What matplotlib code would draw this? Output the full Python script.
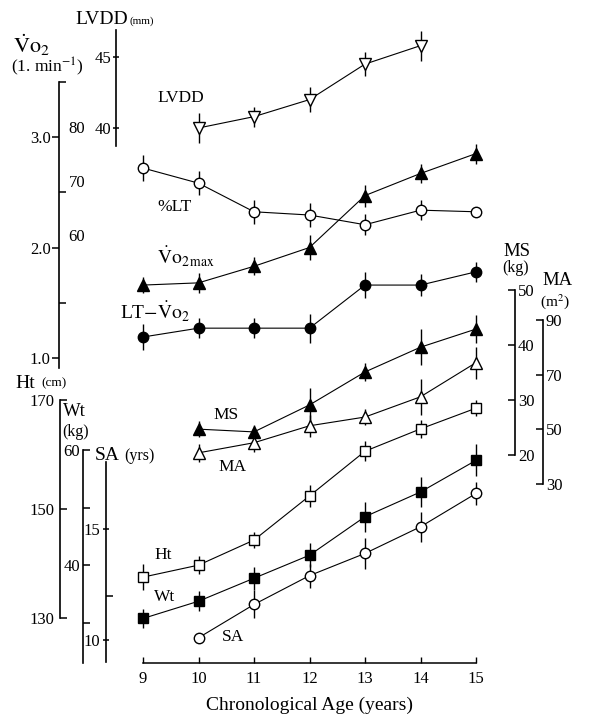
import matplotlib
matplotlib.use('Agg')
import matplotlib.pyplot as plt

plt.rcParams['font.family'] = ['Liberation Serif', 'DejaVu Serif']
plt.rcParams['mathtext.fontset'] = 'stix'

# values
ages = [9, 10, 11, 12, 13, 14, 15]
ages_lvdd = [10, 11, 12, 13, 14]
ages_late = [10, 11, 12, 13, 14, 15]

lvdd = [40.0, 40.8, 42.0, 44.5, 45.8]
lvdd_err = [1.05, 0.7, 0.9, 0.85, 1.05]
pct_lt = [72.4, 69.6, 64.3, 63.7, 61.9, 64.6, 64.3]
pct_lt_err = [2.4, 2.2, 2.2, 2.2, 1.9, 1.9, 0]
vo2max = [1.66, 1.68, 1.83, 2.00, 2.47, 2.67, 2.85]
vo2max_err = [0.07, 0.09, 0.08, 0.11, 0.10, 0.09, 0.09]
lt_vo2 = [1.19, 1.27, 1.27, 1.27, 1.66, 1.66, 1.78]
lt_vo2_err = [0.12, 0.09, 0.09, 0.13, 0.12, 0.10, 0.09]
ms = [24.7, 24.2, 29.1, 35.1, 39.6, 42.9]
ms_err = [1.5, 1.3, 3.1, 1.6, 3.3, 2.5]
ma = [41.4, 45.1, 51.3, 54.5, 61.9, 74.4]
ma_err = [3.3, 3.3, 4.0, 2.9, 6.6, 5.9]
ht = [137.5, 139.7, 144.3, 152.4, 160.6, 164.7, 168.5]
ht_err = [2.4, 1.7, 1.5, 2.0, 1.8, 1.7, 1.5]
wt = [30.7, 33.7, 37.7, 41.7, 48.4, 52.7, 58.2]
wt_err = [1.7, 1.7, 2.0, 2.1, 2.6, 2.6, 2.8]
sa = [10.1, 11.6, 12.9, 13.9, 15.1, 16.6]
sa_err = [0, 0.63, 0.54, 0.68, 0.68, 0.5]

W, H = 591, 719


def lims(v1, p1, v2, p2, a, b):
    k = (v2 - v1) / (p2 - p1)
    return v1 + (a - p1) * k, v1 + (b - p1) * k


xlim = lims(9, 143, 15, 476, 0, W)
fig = plt.figure(figsize=(W / 100, H / 100), dpi=100)


def new_axis(v1, p1, v2, p2):
    a = fig.add_axes([0, 0, 1, 1])
    a.patch.set_visible(False)
    a.set_xlim(xlim)
    a.set_ylim(lims(v1, p1, v2, p2, H, 0))
    for s in a.spines.values():
        s.set_visible(False)
    a.set_xticks([])
    a.set_yticks([])
    return a


def show_spine(a, side, px, lo, hi, ticks, labels, direction, pad, minor=None, mdir='in', line=True):
    sp = a.spines[side]
    sp.set_visible(line)
    sp.set_position(('axes', px / W))
    sp.set_bounds(lo, hi)
    sp.set_linewidth(1.2)
    if side == 'left':
        a.yaxis.tick_left()
    else:
        a.yaxis.tick_right()
    a.set_yticks(ticks, labels)
    a.tick_params(axis='y', which='major', direction=direction, length=5 if line else 0,
                  width=1.1, pad=pad, labelsize=12)
    if minor:
        a.set_yticks(minor, minor=True)
        a.tick_params(axis='y', which='minor', direction=mdir, length=5, width=1.1)


def series(a, x, y, e, marker, filled, size):
    a.errorbar(x, y, yerr=e, color='black', lw=0.8, elinewidth=1.0, capsize=0,
               marker=marker, ms=size, mfc='black' if filled else 'white',
               mec='black', mew=1.0)


def T(x, y, s, size, **kw):
    fig.text(x / W, 1 - y / H, s, fontsize=size, ha='left', va='center', **kw)


# x axis
ax = new_axis(0, 0, 1, 100)
ax.spines['bottom'].set_visible(True)
ax.spines['bottom'].set_position(('axes', 1 - 663 / H))
ax.spines['bottom'].set_bounds(9, 15)
ax.spines['bottom'].set_linewidth(1.1)
ax.set_xticks(ages, [str(v) for v in ages])
ax.tick_params(axis='x', direction='in', length=4, width=1.0, pad=6, labelsize=12)
fig.text(309 / W, 1 - 705 / H, 'Chronological Age (years)', fontsize=14, ha='center', va='center')

# Vo2 axis
ax_vo2 = new_axis(1.0, 358, 3.0, 137)
show_spine(ax_vo2, 'left', 59, 0.91, 3.5, [1.0, 2.0, 3.0], ['1.0', '2.0', '3.0'],
           'out', 1, minor=[1.5, 2.5, 3.5])
series(ax_vo2, ages, vo2max, vo2max_err, '^', True, 8)
series(ax_vo2, ages, lt_vo2, lt_vo2_err, 'o', True, 7.5)

# %LT labels
ax_lt = new_axis(80, 127, 60, 235)
show_spine(ax_lt, 'right', 59, 60, 80, [60, 70, 80], ['60', '70', '80'], 'in', 7, line=False)
series(ax_lt, ages, pct_lt, pct_lt_err, 'o', False, 7.5)

# LVDD axis
ax_lv = new_axis(40, 128, 45, 57)
show_spine(ax_lv, 'left', 116, 38.7, 46.9, [40, 45], ['40', '45'], 'inout', 1)
series(ax_lv, ages_lvdd, lvdd, lvdd_err, 'v', False, 8.5)

# MS / MA axes
ax_ms = new_axis(50, 290, 20, 455)
show_spine(ax_ms, 'right', 515, 20, 50, [20, 30, 40, 50], ['20', '30', '40', '50'], 'in', 2)
series(ax_ms, ages_late, ms, ms_err, '^', True, 8)

ax_ma = new_axis(90, 320, 30, 484)
show_spine(ax_ma, 'right', 543, 30, 90, [30, 50, 70, 90], ['30', '50', '70', '90'], 'in', 2)
series(ax_ma, ages_late, ma, ma_err, '^', False, 8)

# Ht / Wt / SA axes
ax_ht = new_axis(170, 400, 130, 618)
show_spine(ax_ht, 'left', 60, 130, 170, [130, 150, 170], ['130', '150', '170'], 'in', 4)
series(ax_ht, ages, ht, ht_err, 's', False, 7)

ax_wt = new_axis(60, 450, 40, 565)
show_spine(ax_wt, 'left', 83, 23, 60, [30, 40, 50, 60], ['', '40', '', '60'], 'in', 2)
series(ax_wt, ages, wt, wt_err, 's', True, 7)

ax_sa = new_axis(15, 529, 10, 640)
show_spine(ax_sa, 'left', 106, 9.0, 18.0, [10, 15], ['10', '15'], 'inout', 2, minor=[12])
series(ax_sa, ages_late, sa, sa_err, 'o', False, 7.5)

# axis titles
T(75, 19, 'LVDD', 14)
T(130, 21, '(mm)', 8)
T(13, 45, r'$\dot{\mathrm{V}}\mathrm{o}_2$', 16)
T(11, 67, r'(1. min$^{-1}$)', 12.5)
T(15, 383, 'Ht', 14)
T(41, 383, '(cm)', 9.5)
T(63, 412, 'Wt', 13.5)
T(62, 432, '(kg)', 11.5)
T(95, 455, 'SA', 14)
T(124, 456, '(yrs)', 11.5)
T(503, 252, 'MS', 13.5)
T(502, 268, '(kg)', 11.5)
T(542, 281, 'MA', 13.5)
T(540, 302, r'(m$^2$)', 11)

# series labels
T(157, 98, 'LVDD', 12.5)
T(157, 207, '%LT', 12.5)
T(157, 257, r'$\dot{\mathrm{V}}\mathrm{o}_{2\,\mathrm{max}}$', 14)
T(120, 312, r'LT$-\dot{\mathrm{V}}\mathrm{o}_2$', 14)
T(213, 415, 'MS', 12.5)
T(218, 467, 'MA', 12.5)
T(154, 555, 'Ht', 12.5)
T(154, 597, 'Wt', 12.5)
T(222, 637, 'SA', 12.5)

fig.savefig('out.png', dpi=100)
